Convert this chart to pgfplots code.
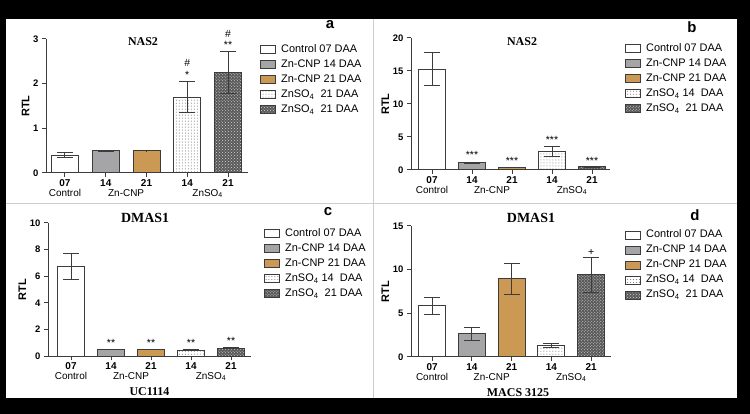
\documentclass[border=0pt]{standalone}
\usepackage{fontspec}
\setmainfont{Liberation Sans}
\newfontfamily\serifb{Liberation Serif}
\usepackage{pgfplots}
\pgfplotsset{compat=1.18}
\usetikzlibrary{patterns}

\definecolor{barGray}{RGB}{165,165,168}
\definecolor{barTan}{RGB}{203,153,84}
\definecolor{axGray}{RGB}{60,60,60}
\definecolor{divGray}{RGB}{205,205,205}

\tikzset{star/.style={font=\fontsize{10.5}{11}\selectfont}}

\pgfplotsset{
  rtl/.style={
    scale only axis, anchor=south west, clip=false,
    ybar, bar shift=0pt, bar width=27bp,
    axis lines*=left,
    axis line style={axGray, line width=1bp},
    every tick/.style={axGray, line width=1bp},
    tick align=outside, major tick length=4bp,
    ymin=0,
    xtick={1,2,3,4,5},
    xticklabels={\textbf{07},\textbf{14},\textbf{21},\textbf{14},\textbf{21}},
    xticklabel style={font=\fontsize{10}{11}\selectfont, yshift=1bp},
    extra x ticks={1,2.5,4.5},
    extra x tick labels={Control,Zn-CNP,ZnSO\textsubscript{4}},
    extra x tick style={major tick length=0pt,
      tick label style={yshift=-14bp, font=\fontsize{10}{11}\selectfont}},
    /pgf/number format/assume math mode=true,
    yticklabel={\pgfmathprintnumber{\tick}},
    yticklabel style={font=\bfseries\fontsize{9.5}{10}\selectfont},
    ylabel={RTL},
    ylabel style={font=\bfseries\fontsize{11}{12}\selectfont, yshift=-3bp},
    error bars/y dir=both, error bars/y explicit,
    error bars/error bar style={axGray, line width=1bp},
    error bars/error mark options={axGray, line width=1bp, mark size=8bp, rotate=90},
    legend cell align=left,
    legend style={draw=none, fill=none, anchor=north west, inner sep=0pt,
      font=\fontsize{11}{13}\selectfont,
      nodes={inner sep=1bp, text height=8bp, text depth=2.5bp},
      row sep=2.5bp,
      /tikz/every odd column/.append style={column sep=4bp}},
  },
  leg/.style={legend image code/.code={\draw[##1] (0bp,-4bp) rectangle (15bp,4bp);}},
  c1/.style={fill=white, draw=axGray, line width=1bp, leg},
  c2/.style={fill=barGray, draw=axGray, line width=1bp, leg},
  c3/.style={fill=barTan, draw=axGray, line width=1bp, leg},
  c4/.style={fill=white, draw=axGray, line width=1bp,
    postaction={pattern=dots, pattern color=black!60}, leg},
  c5/.style={fill=black!65, draw=axGray, line width=1bp,
    postaction={pattern=crosshatch dots, pattern color=white!85!black}, leg},
}

\begin{document}
\begin{tikzpicture}
\useasboundingbox (0,0) rectangle (750bp,414bp);
\fill[black] (0,0) rectangle (750bp,414bp);
\fill[white] (6bp,16bp) rectangle (737bp,395bp);
\draw[divGray, line width=0.8bp] (373bp,16bp) -- (373bp,395bp);
\draw[divGray, line width=0.8bp] (6bp,211bp) -- (737bp,211bp);

% a
\begin{axis}[rtl, at={(46bp,241bp)}, width=202bp, height=134bp,
  xmin=0.534, xmax=5.49, ymax=3, ytick={0,1,2,3},
  title={NAS2}, title style={at={(axis description cs:0.48,0.933)}, anchor=center,
    font=\serifb\bfseries\fontsize{12}{14}\selectfont},
  legend style={at={(1.059,0.967)}}]
\addplot[c1] coordinates {(1,0.40) +- (0,0.055)};
\addplot[c2] coordinates {(2,0.50) +- (0,0.012)};
\addplot[c3] coordinates {(3,0.50) +- (0,0.006)};
\addplot[c4] coordinates {(4,1.70) +- (0,0.35)};
\addplot[c5] coordinates {(5,2.25) +- (0,0.46)};
\legend{Control 07 DAA, Zn-CNP 14 DAA, Zn-CNP 21 DAA,
  ZnSO\textsubscript{4}\ \ 21 DAA, ZnSO\textsubscript{4}\ \ 21 DAA}
\node[star] at (axis cs:4,2.20) {*};
\node[star] at (axis cs:4,2.46) {\#};
\node[star] at (axis cs:5,2.86) {**};
\node[star] at (axis cs:5,3.11) {\#};
\end{axis}

% b
\begin{axis}[rtl, at={(411bp,244bp)}, width=199bp, height=132bp,
  xmin=0.475, xmax=5.45, ymax=20, ytick={0,5,10,15,20},
  title={NAS2}, title style={at={(axis description cs:0.558,0.93)}, anchor=center,
    font=\serifb\bfseries\fontsize{12}{14}\selectfont},
  legend style={at={(1.075,0.967)}}]
\addplot[c1] coordinates {(1,15.3) +- (0,2.55)};
\addplot[c2] coordinates {(2,1.10) +- (0,0.10)};
\addplot[c3] coordinates {(3,0.40) +- (0,0.05)};
\addplot[c4] coordinates {(4,2.80) +- (0,0.75)};
\addplot[c5] coordinates {(5,0.50) +- (0,0.10)};
\legend{Control 07 DAA, Zn-CNP 14 DAA, Zn-CNP 21 DAA,
  ZnSO\textsubscript{4} 14\ \ DAA, ZnSO\textsubscript{4}\ \ 21 DAA}
\node[star] at (axis cs:2,2.3) {***};
\node[star] at (axis cs:3,1.4) {***};
\node[star] at (axis cs:4,4.6) {***};
\node[star] at (axis cs:5,1.4) {***};
\end{axis}

% c
\begin{axis}[rtl, at={(48bp,58bp)}, width=203bp, height=133bp,
  xmin=0.425, xmax=5.5, ymax=10, ytick={0,2,4,6,8,10},
  title={DMAS1}, title style={at={(axis description cs:0.478,0.99)}, anchor=center,
    font=\serifb\bfseries\fontsize{14}{16}\selectfont},
  xlabel={UC1114}, xlabel style={at={(axis description cs:0.5,-0.27)}, anchor=center,
    font=\serifb\bfseries\fontsize{12}{14}\selectfont},
  legend style={at={(1.064,0.967)}}]
\addplot[c1] coordinates {(1,6.70) +- (0,0.97)};
\addplot[c2] coordinates {(2,0.50) +- (0,0.02)};
\addplot[c3] coordinates {(3,0.50) +- (0,0.02)};
\addplot[c4] coordinates {(4,0.45) +- (0,0.02)};
\addplot[c5] coordinates {(5,0.60) +- (0,0.05)};
\legend{Control 07 DAA, Zn-CNP 14 DAA, Zn-CNP 21 DAA,
  ZnSO\textsubscript{4} 14\ \ DAA, ZnSO\textsubscript{4}\ \ 21 DAA}
\node[star] at (axis cs:2,1.0) {**};
\node[star] at (axis cs:3,1.0) {**};
\node[star] at (axis cs:4,0.95) {**};
\node[star] at (axis cs:5,1.15) {**};
\end{axis}

% d
\begin{axis}[rtl, at={(411bp,57bp)}, width=200bp, height=131bp,
  xmin=0.47, xmax=5.5, ymax=15, ytick={0,5,10,15},
  title={DMAS1}, title style={at={(axis description cs:0.6,1.015)}, anchor=center,
    font=\serifb\bfseries\fontsize{14}{16}\selectfont},
  xlabel={MACS 3125}, xlabel style={at={(axis description cs:0.535,-0.275)}, anchor=center,
    font=\serifb\bfseries\fontsize{12}{14}\selectfont},
  legend style={at={(1.07,0.98)}}]
\addplot[c1] coordinates {(1,5.85) +- (0,0.95)};
\addplot[c2] coordinates {(2,2.65) +- (0,0.72)};
\addplot[c3] coordinates {(3,8.95) +- (0,1.80)};
\addplot[c4] coordinates {(4,1.35) +- (0,0.25)};
\addplot[c5] coordinates {(5,9.40) +- (0,2.02)};
\legend{Control 07 DAA, Zn-CNP 14 DAA, Zn-CNP 21 DAA,
  ZnSO\textsubscript{4} 14\ \ DAA, ZnSO\textsubscript{4}\ \ 21 DAA}
\node[star] at (axis cs:5,12.0) {+};
\end{axis}

\node[font=\bfseries\fontsize{15}{16}\selectfont] at (330bp,389bp) {a};
\node[font=\bfseries\fontsize{15}{16}\selectfont] at (692bp,387bp) {b};
\node[font=\bfseries\fontsize{15}{16}\selectfont] at (328bp,202bp) {c};
\node[font=\bfseries\fontsize{15}{16}\selectfont] at (695bp,199bp) {d};
\end{tikzpicture}
\end{document}
